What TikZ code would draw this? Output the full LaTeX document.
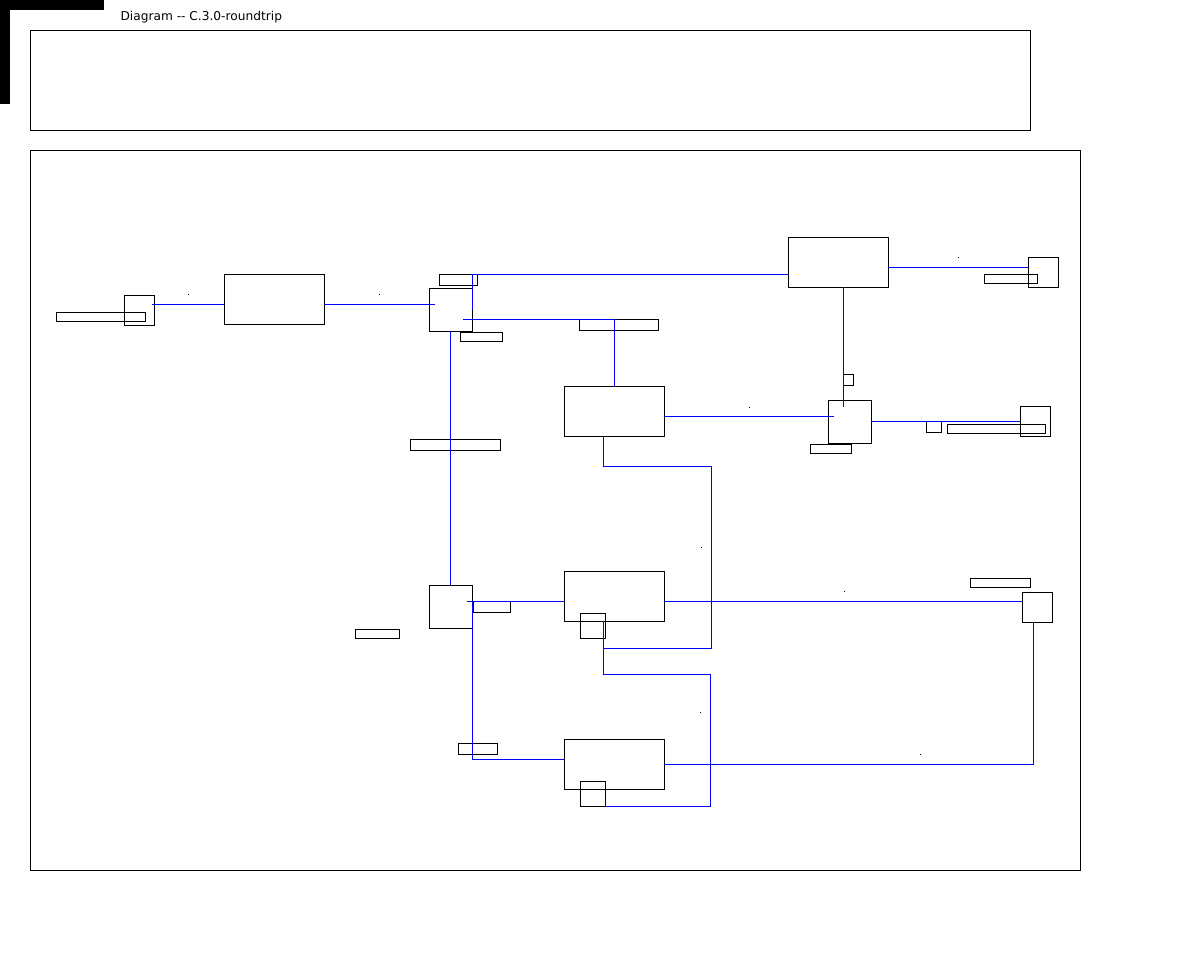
\documentclass[tikz,border=0pt]{standalone}
\usepackage{fontspec}
\setmainfont{DejaVu Sans}
\usepackage{tikz}

\begin{document}
\begin{tikzpicture}[x=1pt,y=-1pt,line width=1pt,
  box/.style={draw=black,fill=none,inner sep=0pt,outer sep=0pt},
  wire/.style={draw=blue,line width=1pt},
  tick/.style={fill=black,inner sep=0pt,minimum size=1pt}]
\useasboundingbox (0,0) rectangle (1180,970);
\fill (0,0) rectangle (104,10);
\fill (0,0) rectangle (10,104);
\node[anchor=base west,inner sep=0pt,font=\fontsize{12.2pt}{14pt}\selectfont] (title) at (120,20) {Diagram -{}- C.3.0-roundtrip};
\draw (30,30) rectangle (1030,130);
\draw (30,150) rectangle (1080,870);
\foreach \n/\x/\y/\w/\h in {p1/139/310/30/30,b1/274/299/100/50,p2/450.5/309.5/43/43,
  b2/838/262/100/50,p3/1043/272/30/30,b3/614/411/100/50,p4/849.5/421.5/43/43,
  p5/1035/421.5/30/30,p6/450.5/606.5/43/43,b4/614/596/100/50,s4/592.5/625.5/25/25,
  p7/1037/607/30/30,b5/614/764/100/50,s5/592.5/793.5/25/25}{
  \node[box,minimum width=\w pt,minimum height=\h pt] (\n) at (\x,\y) {};
}
\foreach \n/\x/\y/\w/\h in {l1/100.5/316.5/89/9,l2a/458/279.5/38/11,l2b/481/336.5/42/9,
  l3/1010.5/278.5/53/9,l4/618.5/324.5/79/11,l5a/848/379.5/10/11,l5b/830.5/448.5/41/9,
  l5c/933.5/426.5/15/11,l6/996/428.5/98/9,l7/455/444.5/90/11,l8a/491.5/606.5/37/11,
  l8b/377/633.5/44/9,l9/1000/582.5/60/9,l10/477.5/748.5/39/11}{
  \node[box,minimum width=\w pt,minimum height=\h pt] (\n) at (\x,\y) {};
}
\foreach \n/\x/\y in {d1/188/294,d2/379/294,d3/958/257,d4/749/407,
  d5/701/547,d6/844/591,d7/700/712,d8/920/754}{
  \node[tick] (\n) at (\x,\y) {};
}
\draw[wire] ([shift={(-2pt,6pt)}]p1.east) -- ([yshift=-5pt]b1.west);
\draw[wire] ([yshift=-5pt]b1.east) -- ([shift={(-16pt,5.5pt)}]p2.center);
\draw[wire] (p2.east) |- ([yshift=-12pt]b2.west);
\draw[wire] ([shift={(12pt,-10pt)}]p2.center) -| (b3.north);
\draw[wire] (p2.south) -- (p6.north);
\draw[wire] ([yshift=-5pt]b2.east) -- ([yshift=5pt]p3.west);
\draw[wire] ([xshift=5pt]b2.south) -- ([shift={(-6.5pt,15pt)}]p4.center);
\draw[wire] ([yshift=-5pt]b3.east) -- ([shift={(-16pt,5.5pt)}]p4.center);
\draw[wire] (p4.east) -- (p5.west);
\draw[wire] ([xshift=-11pt]b3.south) -- ++(0,30) -- ++(108,0) -- ++(0,182) -- ++(-108,0) -- ([xshift=-11pt]b4.south);
\draw[wire] ([shift={(16pt,5.5pt)}]p6.center) -- ([yshift=-5pt]b4.west);
\draw[wire] ([shift={(22pt,5.5pt)}]p6.center) |- ([yshift=5pt]b5.west);
\draw[wire] ([yshift=-5pt]b4.east) -- ([yshift=6pt]p7.west);
\draw[wire] ([xshift=-11pt]b4.south) -- ++(0,53) -- ++(107,0) |- (s5.south east);
\draw[wire] (b5.east) -| ([xshift=-4pt]p7.south);
\end{tikzpicture}
\end{document}
